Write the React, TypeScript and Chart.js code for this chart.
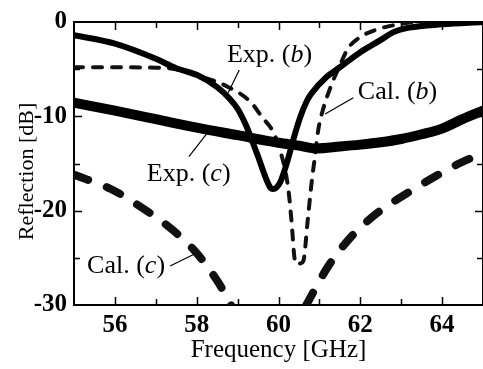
import React, { useEffect, useRef } from "react";
import { Chart, registerables } from "chart.js";

Chart.register(...registerables);

// ---- data ----
const expBx = [55, 56, 57, 57.5, 58, 58.5, 58.8, 59, 59.2, 59.47, 59.79, 59.87, 60.04, 60.2, 60.36, 60.53, 60.69, 60.8, 61.18, 61.5, 62, 62.5, 62.8, 63.2, 64, 65];
const expBy = [-1.4, -2.3, -3.9, -4.9, -5.6, -6.9, -8.1, -9.2, -10.9, -13.9, -17.5, -17.7, -17.0, -15.0, -12.5, -10.1, -8.4, -7.6, -5.8, -4.8, -3.2, -1.9, -1.1, -0.6, -0.25, 0];

const calBx = [55, 56, 57, 57.5, 58, 58.4, 58.73, 59.3, 59.62, 59.85, 60.04, 60.24, 60.32, 60.4, 60.46, 60.53, 60.61, 60.71, 60.81, 60.89, 60.97, 61.1, 61.3, 61.5, 61.7, 62, 62.4, 63, 63.6, 65];
const calBy = [-4.8, -4.8, -4.85, -5.0, -5.7, -6.2, -6.8, -8.4, -10.2, -11.5, -13.6, -17.7, -21.2, -25.3, -25.7, -25.6, -25.3, -21.2, -17.0, -14.3, -11.5, -9.1, -6.6, -4.6, -2.8, -1.6, -0.8, -0.2, 0.1, 0.1];

const expCx = [55, 56, 57, 58, 59, 60, 60.5, 60.93, 61.5, 62, 62.5, 63, 63.5, 64, 64.5, 65];
const expCy = [-8.55, -9.4, -10.3, -11.2, -12.0, -12.8, -13.1, -13.4, -13.2, -13.0, -12.75, -12.4, -11.9, -11.3, -10.3, -9.4];

const calCx = [55, 55.9, 56.7, 57.4, 58, 58.57, 58.85, 59.2, 60.3, 60.68, 61.2, 61.75, 62.4, 63.05, 63.7, 64.44, 65];
const calCy = [-16.2, -17.7, -19.8, -22.0, -24.5, -27.9, -30.1, -32.5, -33.0, -30.0, -26.0, -22.9, -20.3, -18.4, -16.7, -14.95, -13.9];

const xTickLabels = [56, 58, 60, 62, 64];
const xMinorTicks = [56, 57, 58, 59, 60, 61, 62, 63, 64];
const yTickLabels = [0, -10, -20, -30];
const yMinorTicks = [-5, -10, -15, -20, -25];
const yTitle = "Reflection [dB]";

const annotations = [
  { pre: "Exp. (", it: "b", post: ")", tx: 58.74, ty: -3.53, lx1: 59.04, ly1: -5.1, lx2: 58.77, ly2: -7.5 },
  { pre: "Cal. (", it: "b", post: ")", tx: 61.94, ty: -7.48, lx1: 61.83, ly1: -8.03, lx2: 61.14, ly2: -9.76 },
  { pre: "Exp. (", it: "c", post: ")", tx: 56.78, ty: -16.1, lx1: 57.81, ly1: -14.26, lx2: 58.28, ly2: -11.66 },
  { pre: "Cal. (", it: "c", post: ")", tx: 55.32, ty: -25.86, lx1: 57.35, ly1: -25.86, lx2: 57.92, ly2: -24.64 },
];

const FONT = "'Liberation Serif', 'Times New Roman', serif";

const pts = (xs: number[], ys: number[]) => xs.map((x, i) => ({ x, y: ys[i] }));

const framePlugin = {
  id: "frame",
  beforeDatasetsDraw(chart: any) {
    const { ctx, chartArea: a, scales } = chart;
    const xs = scales.x, ys = scales.y;
    ctx.save();
    ctx.strokeStyle = "#000";
    ctx.lineWidth = 2;
    ctx.beginPath();
    ctx.moveTo(a.left, a.top);
    ctx.lineTo(a.right, a.top);
    ctx.moveTo(a.left, a.top - 1);
    ctx.lineTo(a.left, a.bottom + 1);
    ctx.moveTo(a.left, a.bottom);
    ctx.lineTo(a.right, a.bottom);
    ctx.moveTo(a.right, a.top);
    ctx.lineTo(a.right, a.bottom);
    ctx.stroke();
    ctx.lineWidth = 1.5;
    ctx.beginPath();
    for (const v of xMinorTicks) {
      const px = Math.round(xs.getPixelForValue(v)) + 0.5;
      const len = v % 2 === 0 ? 8 : 6;
      ctx.moveTo(px, a.bottom);
      ctx.lineTo(px, a.bottom - len);
      ctx.moveTo(px, a.top);
      ctx.lineTo(px, a.top + len);
    }
    for (const v of yMinorTicks) {
      const py = Math.round(ys.getPixelForValue(v)) + 0.5;
      const len = v % 10 === 0 ? 8 : 6;
      ctx.moveTo(a.left, py);
      ctx.lineTo(a.left + len, py);
      ctx.moveTo(a.right, py);
      ctx.lineTo(a.right - len, py);
    }
    ctx.stroke();
    // y-axis title
    ctx.save();
    ctx.translate(27, (a.top + a.bottom) / 2 + 8);
    ctx.rotate(-Math.PI / 2);
    ctx.font = `22px ${FONT}`;
    ctx.fillStyle = "#000";
    ctx.textAlign = "center";
    ctx.textBaseline = "middle";
    ctx.fillText(yTitle, 0, 0);
    ctx.restore();
    ctx.restore();
  },
  afterDatasetsDraw(chart: any) {
    const { ctx, scales } = chart;
    const xs = scales.x, ys = scales.y;
    ctx.save();
    ctx.fillStyle = "#000";
    ctx.strokeStyle = "#000";
    ctx.lineWidth = 1.2;
    ctx.textBaseline = "middle";
    ctx.textAlign = "left";
    for (const an of annotations) {
      let x = xs.getPixelForValue(an.tx);
      const y = ys.getPixelForValue(an.ty);
      ctx.font = `26px ${FONT}`;
      ctx.fillText(an.pre, x, y);
      x += ctx.measureText(an.pre).width;
      ctx.font = `italic 26px ${FONT}`;
      ctx.fillText(an.it, x, y);
      x += ctx.measureText(an.it).width;
      ctx.font = `26px ${FONT}`;
      ctx.fillText(an.post, x, y);
      ctx.beginPath();
      ctx.moveTo(xs.getPixelForValue(an.lx1), ys.getPixelForValue(an.ly1));
      ctx.lineTo(xs.getPixelForValue(an.lx2), ys.getPixelForValue(an.ly2));
      ctx.stroke();
    }
    ctx.restore();
  },
};

export default function App() {
  const ref = useRef<HTMLCanvasElement | null>(null);
  useEffect(() => {
    document.body.style.margin = "0";
    const canvas = ref.current!;
    const chart = new Chart(canvas, {
      type: "line",
      data: {
        datasets: [
          {
            label: "Exp. (b)",
            data: pts(expBx, expBy),
            borderColor: "#000",
            borderWidth: 6,
            borderCapStyle: "round",
            borderJoinStyle: "round",
            cubicInterpolationMode: "monotone",
            pointRadius: 0,
            order: 1,
          },
          {
            label: "Exp. (c)",
            data: pts(expCx, expCy),
            borderColor: "#000",
            borderWidth: 10,
            borderCapStyle: "round",
            borderJoinStyle: "round",
            cubicInterpolationMode: "monotone",
            pointRadius: 0,
            order: 2,
          },
          {
            label: "Cal. (b)",
            data: pts(calBx, calBy),
            borderColor: "#111",
            borderWidth: 4,
            borderDash: [9, 10],
            borderCapStyle: "round",
            cubicInterpolationMode: "monotone",
            pointRadius: 0,
            order: 3,
          },
          {
            label: "Cal. (c)",
            data: pts(calCx, calCy),
            borderColor: "#111",
            borderWidth: 8,
            borderDash: [15, 20],
            borderCapStyle: "round",
            cubicInterpolationMode: "monotone",
            pointRadius: 0,
            order: 4,
          },
        ],
      },
      options: {
        responsive: false,
        animation: false,
        layout: { padding: 0 },
        plugins: { legend: { display: false }, tooltip: { enabled: false } },
        scales: {
          x: {
            type: "linear",
            position: "bottom",
            min: 55,
            max: 65,
            afterBuildTicks: (s: any) => {
              s.ticks = xTickLabels.map((v) => ({ value: v }));
            },
            afterFit: (s: any) => {
              s.height = 64;
            },
            grid: { display: false, drawTicks: false },
            border: { display: false },
            ticks: {
              color: "#000",
              padding: 6,
              maxRotation: 0,
              autoSkip: false,
              font: { family: FONT, size: 25, weight: "bold" },
            },
            title: {
              display: true,
              text: "Frequency [GHz]",
              color: "#000",
              padding: { top: 0, bottom: 4 },
              font: { family: FONT, size: 25 },
            },
          },
          x2: {
            type: "linear",
            position: "top",
            min: 55,
            max: 65,
            display: true,
            afterFit: (s: any) => {
              s.height = 16;
            },
            grid: { display: false, drawTicks: false },
            border: { display: false },
            ticks: { display: false },
          },
          y: {
            type: "linear",
            min: -30,
            max: 0,
            afterBuildTicks: (s: any) => {
              s.ticks = yTickLabels.map((v) => ({ value: v }));
            },
            afterFit: (s: any) => {
              s.width = 74;
            },
            grid: { display: false, drawTicks: false },
            border: { display: false },
            ticks: {
              color: "#000",
              padding: 7,
              font: { family: FONT, size: 25, weight: "bold" },
            },
            title: { display: false },
          },
        },
      },
      plugins: [framePlugin],
    });
    return () => chart.destroy();
  }, []);
  return (
    <div style={{ width: 483, height: 369 }}>
      <canvas ref={ref} width={483} height={369} />
    </div>
  );
}
